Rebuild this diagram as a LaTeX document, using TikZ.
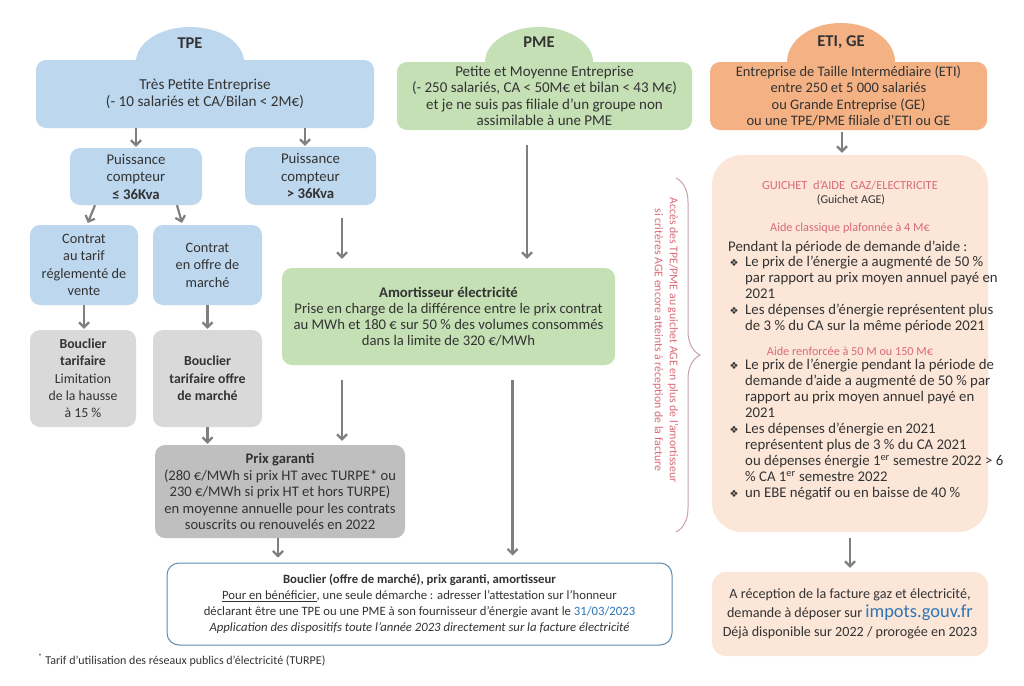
\documentclass[tikz,border=0pt]{standalone}
\usepackage{fontspec}
\setmainfont{Carlito}
\newfontfamily\dejavu{DejaVu Sans}
\usetikzlibrary{arrows.meta,shapes.geometric,decorations.pathreplacing,calc}
\definecolor{tpeblue}{HTML}{BDD7EE}
\definecolor{pmegreen}{HTML}{C5E0B4}
\definecolor{etiorange}{HTML}{F4B183}
\definecolor{peach}{HTML}{FBE6D8}
\definecolor{boxgray}{HTML}{D9D9D9}
\definecolor{boxgraydk}{HTML}{BFBFBF}
\definecolor{arrowgray}{HTML}{7F7F7F}
\definecolor{pinktext}{HTML}{D96B78}
\definecolor{bracecol}{HTML}{C8A2A8}
\definecolor{linkblue}{HTML}{2E75B6}
\definecolor{framebl}{HTML}{5B8DB0}
\definecolor{txt}{HTML}{333333}
\begin{document}
\begin{tikzpicture}[x=1pt,y=-1pt,
  every node/.style={text=txt, inner sep=0pt, align=center},
  box/.style={rounded corners=10pt},
  fg/.style={font=\fontsize{14.8}{16}\selectfont},
  gline/.style={anchor=west, fg, text height=10.5pt, text depth=3.5pt},
  bul/.style={font=\dejavu\fontsize{10}{11}\selectfont, text=txt},
  domelabel/.style={font=\fontsize{16.5}{18}\selectfont\bfseries},
  arr/.style={draw=arrowgray, line width=2.2pt, -{Straight Barb[length=5pt,width=10pt]}},
  dome/.style={ellipse, minimum width=108pt, minimum height=70pt}
]
\useasboundingbox (0,0) rectangle (1024,685);
\fill[white] (0,0) rectangle (1024,685);

% domes
\node[dome, fill=tpeblue] (tpedome) at (190,62) {};
\node[dome, fill=pmegreen] (pmedome) at (539,62) {};
\node[dome, fill=etiorange, minimum height=78pt] (etidome) at (841,62) {};

% top boxes
\node[box, fill=tpeblue, minimum width=338pt, minimum height=68pt, font=\fontsize{15.2}{17.3}\selectfont] (tpe) at (205,94)
  {Très Petite Entreprise\\(- 10 salariés et CA/Bilan < 2M€)};
\node[box, fill=pmegreen, minimum width=295pt, minimum height=68pt, font=\fontsize{15}{16.3}\selectfont] (pme) at (544.5,96)
  {Petite et Moyenne Entreprise\\(- 250 salariés, CA < 50M€ et bilan < 43 M€)\\et je ne suis pas filiale d’un groupe non\\assimilable à une PME};
\node[box, fill=etiorange, minimum width=277pt, minimum height=68pt, font=\fontsize{14.5}{16.3}\selectfont] (eti) at (848.5,96)
  {Entreprise de Taille Intermédiaire (ETI)\\entre 250 et 5 000 salariés\\ou Grande Entreprise (GE)\\ou une TPE/PME filiale d’ETI ou GE};

\node[domelabel] (tpelabel) at (190,43) {TPE};
\node[domelabel] (pmelabel) at (539,42) {PME};
\node[domelabel] (etilabel) at (841,42) {ETI, GE};

% TPE column
\node[box, fill=tpeblue, minimum width=132pt, minimum height=57pt, font=\fontsize{14.8}{17.5}\selectfont] (puisl) at (136,176.5)
  {Puissance\\compteur\\\textbf{≤ 36Kva}};
\node[box, fill=tpeblue, minimum width=131pt, minimum height=58pt, font=\fontsize{14.8}{17.5}\selectfont] (puisr) at (310.5,176)
  {Puissance\\compteur\\\textbf{> 36Kva}};
\node[box, fill=tpeblue, minimum width=108pt, minimum height=80pt, font=\fontsize{14.3}{17.5}\selectfont] (contratl) at (84,265)
  {Contrat\\au tarif\\réglementé de\\vente};
\node[box, fill=tpeblue, minimum width=109pt, minimum height=80pt, font=\fontsize{14.3}{17.5}\selectfont] (contratr) at (207.5,265)
  {Contrat\\en offre de\\marché};
\node[box, fill=boxgray, minimum width=106pt, minimum height=97pt, font=\fontsize{13.8}{17.3}\selectfont] (bouclierl) at (83,378.5)
  {\textbf{Bouclier}\\\textbf{tarifaire}\\Limitation\\de la hausse\\à 15 \%};
\node[box, fill=boxgray, minimum width=109pt, minimum height=97pt, font=\fontsize{13.8}{17.3}\selectfont] (bouclierr) at (207.5,378.5)
  {\textbf{Bouclier}\\\textbf{tarifaire offre}\\\textbf{de marché}};
\node[box, fill=boxgraydk, minimum width=250pt, minimum height=93pt, font=\fontsize{14.6}{16.5}\selectfont] (prix) at (280,491.5)
  {\textbf{Prix garanti}\\(280 €/MWh si prix HT avec TURPE* ou\\230 €/MWh si prix HT et hors TURPE)\\en moyenne annuelle pour les contrats\\souscrits ou renouvelés en 2022};

% Amortisseur
\node[box, fill=pmegreen, minimum width=333pt, minimum height=97pt, font=\fontsize{14.7}{16}\selectfont] (amort) at (448.5,316.5)
  {\textbf{Amortisseur électricité}\\Prise en charge de la différence entre le prix contrat\\au MWh et 180 € sur 50 \% des volumes consommés\\dans la limite de 320 €/MWh};

% Final box
\node[box, rounded corners=12pt, draw=framebl, line width=1pt, fill=white, minimum width=505pt, minimum height=82pt, font=\fontsize{12.7}{16}\selectfont] (final) at (419.5,604)
  {\textbf{Bouclier (offre de marché), prix garanti, amortisseur}\\\underline{Pour en bénéficier}, une seule démarche : adresser l’attestation sur l’honneur\\déclarant être une TPE ou une PME à son fournisseur d’énergie avant le \textcolor{linkblue}{31/03/2023}\\\textit{Application des dispositifs toute l’année 2023 directement sur la facture électricité}};

% Guichet
\node[box, rounded corners=30pt, fill=peach, minimum width=276pt, minimum height=377pt] (guichet) at (850,343.5) {};
\node[text=pinktext, font=\fontsize{12.4}{13}\selectfont] (g1) at (850,185) {GUICHET\ \ d’AIDE\ \ GAZ/ELECTRICITE};
\node[font=\fontsize{12}{13}\selectfont] (g2) at (851,200) {(Guichet AGE)};
\node[text=pinktext, font=\fontsize{12.2}{13}\selectfont] (g3) at (850,228) {Aide classique plafonnée à 4 M€};
\node[gline] (g4) at (728,248) {Pendant la période de demande d’aide :};
\node[gline] (g5) at (745,263) {Le prix de l’énergie a augmenté de 50 \%};
\node[gline] (g6) at (745,279) {par rapport au prix moyen annuel payé en};
\node[gline] (g7) at (745,295) {2021};
\node[gline] (g8) at (745,311) {Les dépenses d’énergie représentent plus};
\node[gline] (g9) at (745,327) {de 3 \% du CA sur la même période 2021};
\node[text=pinktext, font=\fontsize{12.2}{13}\selectfont] (g10) at (850,351) {Aide renforcée à 50 M ou 150 M€};
\node[gline] (g11) at (745,366) {Le prix de l’énergie pendant la période de};
\node[gline] (g12) at (745,382) {demande d’aide a augmenté de 50 \% par};
\node[gline] (g13) at (745,398) {rapport au prix moyen annuel payé en};
\node[gline] (g14) at (745,414) {2021};
\node[gline] (g15) at (745,430) {Les dépenses d’énergie en 2021};
\node[gline] (g16) at (745,446) {représentent plus de 3 \% du CA 2021};
\node[gline] (g17) at (745,462) {ou dépenses énergie 1\textsuperscript{er} semestre 2022 > 6};
\node[gline] (g18) at (745,478) {\% CA 1\textsuperscript{er} semestre 2022};
\node[gline] (g19) at (745,494) {un EBE négatif ou en baisse de 40 \%};
\node[bul] (b1) at (734,263) {❖};
\node[bul] (b2) at (734,311) {❖};
\node[bul] (b3) at (734,366) {❖};
\node[bul] (b4) at (734,430) {❖};
\node[bul] (b5) at (734,494) {❖};

% Brace and rotated text
\draw[bracecol, line width=1pt, decorate, decoration={brace, amplitude=24pt}] (676,178) -- (676,532);
\node[rotate=-90, text=pinktext, font=\fontsize{11.8}{15}\selectfont] (bracetext) at (665.5,340)
  {Accès des TPE/PME au guichet AGE en plus de l’amortisseur\\si critères AGE encore atteints à réception de la facture};

% Reception box
\node[box, rounded corners=14pt, fill=peach, minimum width=276pt, minimum height=84pt, font=\fontsize{14.1}{19}\selectfont] (recep) at (850,614)
  {A réception de la facture gaz et électricité,\\demande à déposer sur {\fontsize{18.4}{19}\selectfont\textcolor{linkblue}{impots.gouv.fr}}\\Déjà disponible sur 2022 / prorogée en 2023};

% Footnote
\node[anchor=west, font=\fontsize{12}{13}\selectfont] (foot) at (38,660)
  {\textsuperscript{*} Tarif d’utilisation des réseaux publics d’électricité (TURPE)};

% Arrows
\coordinate (a1) at ([xshift=-5.5pt]puisr.north);
\draw[arr, shorten >=1pt] (tpe.south -| puisl.north) -- (puisl.north);
\draw[arr, shorten >=1pt] (tpe.south -| a1) -- (a1);
\draw[arr, shorten >=2pt] ([xshift=-41pt]puisl.south) -- ([xshift=3pt]contratl.north);
\draw[arr, shorten >=2pt] ([xshift=41pt]puisl.south) -- ([xshift=-25pt]contratr.north);
\draw[arr, shorten >=1pt] (contratl.south) -- (contratl.south |- bouclierl.north);
\draw[arr, shorten >=1pt] (contratr.south) -- (contratr.south |- bouclierr.north);
\draw[arr, shorten >=1pt] (bouclierr.south) -- (bouclierr.south |- prix.north);
\coordinate (a2) at ([xshift=31.5pt]puisr.south);
\draw[arr, shorten <=13pt, shorten >=9pt] (a2) -- (a2 |- amort.north);
\coordinate (a3) at ([xshift=-17.5pt]pme.south);
\draw[arr, shorten <=15pt, shorten >=9pt] (a3) -- (a3 |- amort.north);
\coordinate (a4) at ([xshift=-106.5pt]amort.south);
\draw[arr, shorten <=15pt, shorten >=4pt] (a4) -- (a4 |- prix.north);
\coordinate (a5) at ([xshift=64pt]amort.south);
\draw[arr, shorten <=15pt, shorten >=7pt] (a5) -- (a5 |- final.north);
\coordinate (a6) at ([xshift=-2pt]prix.south);
\draw[arr, shorten >=5pt] (a6) -- (a6 |- final.north);
\coordinate (a7) at ([xshift=-6.5pt]eti.south);
\draw[arr, shorten <=2pt, shorten >=2pt] (a7) -- (a7 |- guichet.north);
\draw[arr, shorten <=6pt, shorten >=4pt] (guichet.south) -- (recep.north);
\end{tikzpicture}
\end{document}
